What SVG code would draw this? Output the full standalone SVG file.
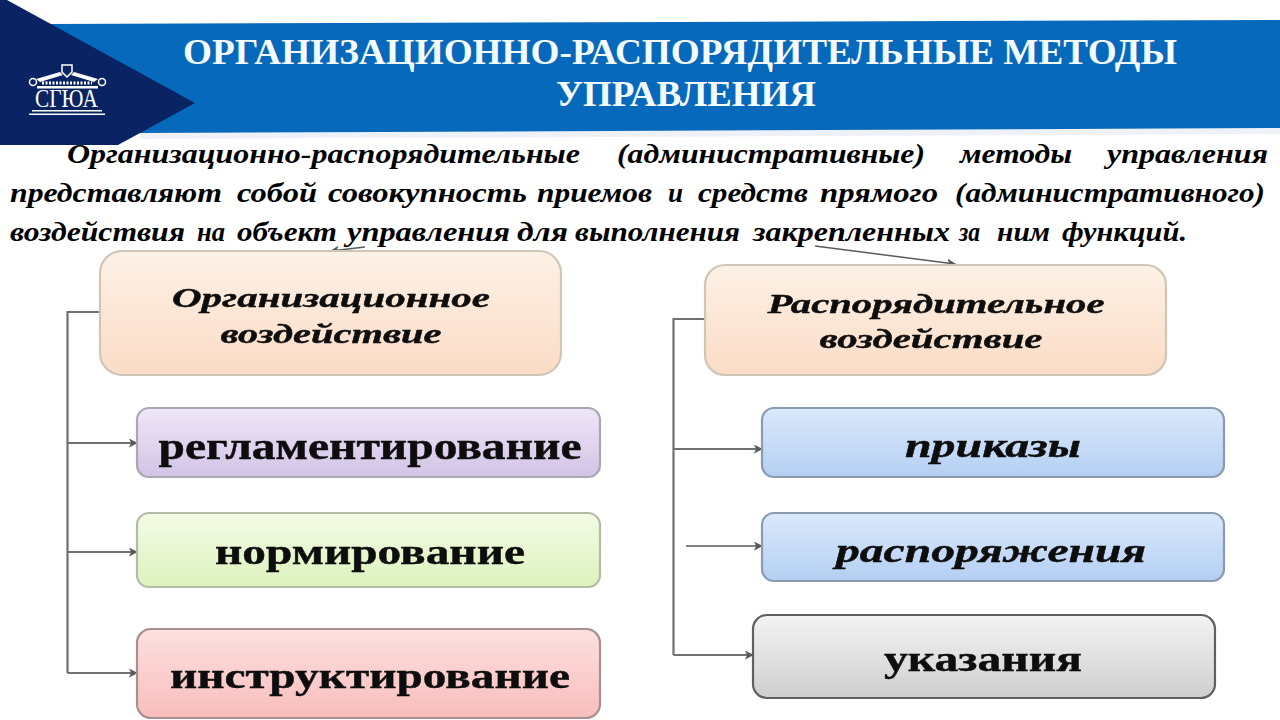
<svg xmlns="http://www.w3.org/2000/svg" width="1280" height="720" viewBox="0 0 1280 720">
<style>
.title{font:bold 36px "Liberation Serif",serif;fill:#f4fbff}
.body text{font:italic bold 28px "Liberation Serif",serif;fill:#000}
.nl{font-family:"Liberation Serif",serif;font-weight:bold;fill:#0a0a0a;text-anchor:middle;stroke:#0a0a0a;stroke-width:.4}
.it{font-style:italic}
.box{stroke-width:2.2}
.conn{fill:none;stroke:#707070;stroke-width:2.2}
.thin{fill:none;stroke:#5a5a5a;stroke-width:1.5}
</style>
<defs>
<linearGradient id="gO" x1="0" y1="0" x2="0" y2="1"><stop offset="0" stop-color="#fdf1e6"/><stop offset="1" stop-color="#fbdcc6"/></linearGradient>
<linearGradient id="gP" x1="0" y1="0" x2="0" y2="1"><stop offset="0" stop-color="#efe6f8"/><stop offset="1" stop-color="#d2c4e6"/></linearGradient>
<linearGradient id="gG" x1="0" y1="0" x2="0" y2="1"><stop offset="0" stop-color="#f4fbe6"/><stop offset="1" stop-color="#dcf2bd"/></linearGradient>
<linearGradient id="gR" x1="0" y1="0" x2="0" y2="1"><stop offset="0" stop-color="#fde0e0"/><stop offset="1" stop-color="#f9bdbd"/></linearGradient>
<linearGradient id="gB" x1="0" y1="0" x2="0" y2="1"><stop offset="0" stop-color="#dbe9fb"/><stop offset="1" stop-color="#b4cff3"/></linearGradient>
<linearGradient id="gK" x1="0" y1="0" x2="0" y2="1"><stop offset="0" stop-color="#f3f3f3"/><stop offset="1" stop-color="#cfcfcf"/></linearGradient>
<filter id="soft" x="-5%" y="-20%" width="110%" height="140%"><feGaussianBlur stdDeviation="0.6"/></filter>
<filter id="edge" x="-2%" y="-5%" width="104%" height="110%"><feGaussianBlur stdDeviation="0.7"/></filter>
<marker id="arr" viewBox="0 0 10 10" refX="9" refY="5" markerWidth="9" markerHeight="9" markerUnits="userSpaceOnUse" orient="auto"><path d="M0 0L10 5L0 10L2.500 5Z" fill="#5a5a5a"/></marker>
</defs>
<rect width="1280" height="720" fill="#fff"/>
<g id="banner">
<polygon points="140,133 1280,128 1280,134 140,139" fill="#eef2f8"/>
<polygon points="48,24 1280,20 1280,128 140,133" fill="#0769bb"/>
<polygon points="0,0 7,0 195,103 118,145 0,145" fill="#0a2463"/>
</g>
<g id="logo" fill="#fff">
<path d="M36 79L60 72L63 75L40 82ZM98 79L74 72L71 75L94 82Z"/>
<path d="M62 65H72V72L67 77L62 72Z" fill="none" stroke="#fff" stroke-width="1.500"/>
<circle cx="33" cy="82" r="3.500" fill="none" stroke="#fff" stroke-width="1.500"/>
<circle cx="102" cy="82" r="3.500" fill="none" stroke="#fff" stroke-width="1.500"/>
<path d="M42 83H92" fill="none" stroke="#fff" stroke-width="3" stroke-dasharray="2 1.500"/>
<rect x="37" y="86" width="61" height="2.500"/>
<text x="66.500" y="107" text-anchor="middle" textLength="63" lengthAdjust="spacingAndGlyphs" style="font:25px 'Liberation Serif',serif">СГЮА</text>
<rect x="32" y="110" width="70" height="1.500"/>
<rect x="29" y="113.500" width="76" height="1.500"/>
</g>
<g id="title">
<text class="title" x="183" y="64" textLength="994" lengthAdjust="spacingAndGlyphs">ОРГАНИЗАЦИОННО-РАСПОРЯДИТЕЛЬНЫЕ МЕТОДЫ</text>
<text class="title" x="556" y="106" textLength="260" lengthAdjust="spacingAndGlyphs">УПРАВЛЕНИЯ</text>
</g>
<g id="paragraph" class="body">
<text x="67" y="163" textLength="513" lengthAdjust="spacingAndGlyphs">Организационно-распорядительные</text>
<text x="617" y="163" textLength="308" lengthAdjust="spacingAndGlyphs">(административные)</text>
<text x="960" y="163" textLength="112" lengthAdjust="spacingAndGlyphs">методы</text>
<text x="1107" y="163" textLength="161" lengthAdjust="spacingAndGlyphs">управления</text>
<text x="10" y="202" textLength="212" lengthAdjust="spacingAndGlyphs">представляют</text>
<text x="237" y="202" textLength="80" lengthAdjust="spacingAndGlyphs">собой</text>
<text x="328" y="202" textLength="199" lengthAdjust="spacingAndGlyphs">совокупность</text>
<text x="537" y="202" textLength="115" lengthAdjust="spacingAndGlyphs">приемов</text>
<text x="668" y="202" textLength="15" lengthAdjust="spacingAndGlyphs">и</text>
<text x="698" y="202" textLength="110" lengthAdjust="spacingAndGlyphs">средств</text>
<text x="820" y="202" textLength="118" lengthAdjust="spacingAndGlyphs">прямого</text>
<text x="955" y="202" textLength="310" lengthAdjust="spacingAndGlyphs">(административного)</text>
<text x="10" y="241" textLength="175" lengthAdjust="spacingAndGlyphs">воздействия</text>
<text x="197" y="241" textLength="28" lengthAdjust="spacingAndGlyphs">на</text>
<text x="237" y="241" textLength="100" lengthAdjust="spacingAndGlyphs">объект</text>
<text x="347" y="241" textLength="163" lengthAdjust="spacingAndGlyphs">управления</text>
<text x="517" y="241" textLength="51" lengthAdjust="spacingAndGlyphs">для</text>
<text x="575" y="241" textLength="165" lengthAdjust="spacingAndGlyphs">выполнения</text>
<text x="753" y="241" textLength="197" lengthAdjust="spacingAndGlyphs">закрепленных</text>
<text x="959" y="241" textLength="21" lengthAdjust="spacingAndGlyphs">за</text>
<text x="997" y="241" textLength="53" lengthAdjust="spacingAndGlyphs">ним</text>
<text x="1062" y="241" textLength="125" lengthAdjust="spacingAndGlyphs">функций.</text>
</g>
<g id="connectors">
<path class="conn" d="M100 312H67.500V673"/>
<path class="conn" marker-end="url(#arr)" d="M68 443H137"/>
<path class="conn" marker-end="url(#arr)" d="M68 552H137"/>
<path class="conn" marker-end="url(#arr)" d="M67.500 673H137"/>
<path class="conn" d="M705 319H673.500V655"/>
<path class="conn" marker-end="url(#arr)" d="M674 449H762"/>
<path class="thin" marker-end="url(#arr)" d="M686 546H762"/>
<path class="conn" marker-end="url(#arr)" d="M673.500 655H753"/>
<path class="thin" marker-end="url(#arr)" d="M365 247L331 251"/>
<path class="thin" marker-end="url(#arr)" d="M815 246L955 264"/>
</g>
<g id="n-org"><rect class="box" x="100" y="251" width="461" height="124" rx="22" fill="url(#gO)" stroke="#cfc6b8" filter="url(#edge)"/>
<g filter="url(#soft)"><text class="nl it" x="331" y="307" font-size="28" textLength="318" lengthAdjust="spacingAndGlyphs">Организационное</text><text class="nl it" x="331" y="343" font-size="28" textLength="221" lengthAdjust="spacingAndGlyphs">воздействие</text></g></g>
<g id="n-reg"><rect class="box" x="137" y="408" width="463" height="69" rx="12" fill="url(#gP)" stroke="#a8a8b0" filter="url(#edge)"/>
<text class="nl" x="370" y="459" font-size="38" textLength="423" lengthAdjust="spacingAndGlyphs" filter="url(#soft)">регламентирование</text></g>
<g id="n-norm"><rect class="box" x="137" y="513" width="463" height="74" rx="12" fill="url(#gG)" stroke="#b4bca8" filter="url(#edge)"/>
<text class="nl" x="370" y="564" font-size="36" textLength="310" lengthAdjust="spacingAndGlyphs" filter="url(#soft)">нормирование</text></g>
<g id="n-instr"><rect class="box" x="137" y="629" width="463" height="89" rx="14" fill="url(#gR)" stroke="#a89090" filter="url(#edge)"/>
<text class="nl" x="370" y="688" font-size="36" textLength="400" lengthAdjust="spacingAndGlyphs" filter="url(#soft)">инструктирование</text></g>
<g id="n-rasp"><rect class="box" x="705" y="265" width="461" height="110" rx="20" fill="url(#gO)" stroke="#cfc6b8" filter="url(#edge)"/>
<g filter="url(#soft)"><text class="nl it" x="936" y="313" font-size="28" textLength="337" lengthAdjust="spacingAndGlyphs">Распорядительное</text><text class="nl it" x="931" y="348" font-size="28" textLength="223" lengthAdjust="spacingAndGlyphs">воздействие</text></g></g>
<g id="n-prik"><rect class="box" x="762" y="408" width="462" height="69" rx="12" fill="url(#gB)" stroke="#8a9ab0" filter="url(#edge)"/>
<text class="nl it" x="993" y="457" font-size="33" textLength="176" lengthAdjust="spacingAndGlyphs" filter="url(#soft)">приказы</text></g>
<g id="n-raspor"><rect class="box" x="762" y="513" width="462" height="68" rx="12" fill="url(#gB)" stroke="#8a9ab0" filter="url(#edge)"/>
<text class="nl it" x="991" y="562" font-size="33" textLength="310" lengthAdjust="spacingAndGlyphs" filter="url(#soft)">распоряжения</text></g>
<g id="n-ukaz"><rect class="box" x="753" y="615" width="462" height="83" rx="14" fill="url(#gK)" stroke="#606060" filter="url(#edge)"/>
<text class="nl" x="983" y="671" font-size="36" textLength="198" lengthAdjust="spacingAndGlyphs" filter="url(#soft)">указания</text></g>
</svg>
